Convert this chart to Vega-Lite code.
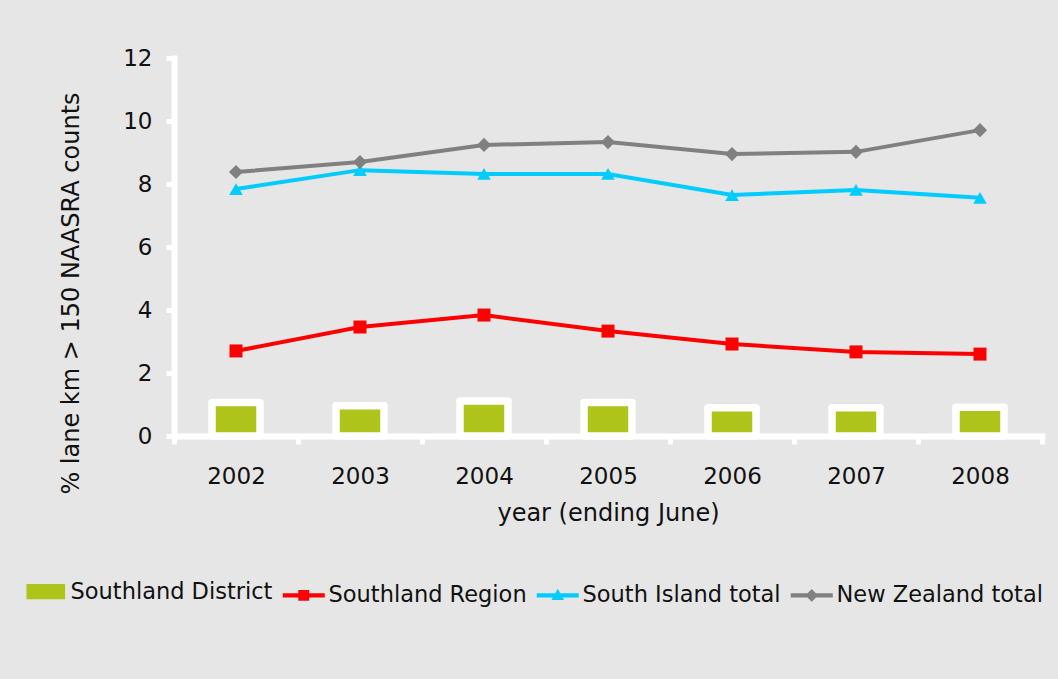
{
  "$schema": "https://vega.github.io/schema/vega-lite/v6.json",
  "autosize": "none",
  "width": 868,
  "height": 378,
  "padding": {"left": 174, "top": 58, "right": 16, "bottom": 243},
  "background": "#e6e6e6",
  "config": {
    "view": {"stroke": null},
    "font": "DejaVu Sans",
    "axis": {
      "grid": false,
      "domainColor": "white",
      "domainWidth": 6,
      "domainCap": "square",
      "tickColor": "white",
      "tickWidth": 5,
      "tickSize": 8,
      "labelFont": "DejaVu Sans",
      "labelFontSize": 23,
      "labelColor": "#111",
      "titleFont": "DejaVu Sans",
      "titleFontSize": 24,
      "titleFontWeight": "normal",
      "titleColor": "#111"
    }
  },
  "data": {
    "values": [
      {"year": "2002", "series": "Southland District", "value": 1.06},
      {"year": "2003", "series": "Southland District", "value": 0.96},
      {"year": "2004", "series": "Southland District", "value": 1.11},
      {"year": "2005", "series": "Southland District", "value": 1.06},
      {"year": "2006", "series": "Southland District", "value": 0.9},
      {"year": "2007", "series": "Southland District", "value": 0.9},
      {"year": "2008", "series": "Southland District", "value": 0.91},
      {"year": "2002", "series": "Southland Region", "value": 2.7},
      {"year": "2003", "series": "Southland Region", "value": 3.46},
      {"year": "2004", "series": "Southland Region", "value": 3.84},
      {"year": "2005", "series": "Southland Region", "value": 3.33},
      {"year": "2006", "series": "Southland Region", "value": 2.92},
      {"year": "2007", "series": "Southland Region", "value": 2.67},
      {"year": "2008", "series": "Southland Region", "value": 2.6},
      {"year": "2002", "series": "South Island total", "value": 7.84},
      {"year": "2003", "series": "South Island total", "value": 8.44},
      {"year": "2004", "series": "South Island total", "value": 8.32},
      {"year": "2005", "series": "South Island total", "value": 8.32},
      {"year": "2006", "series": "South Island total", "value": 7.65},
      {"year": "2007", "series": "South Island total", "value": 7.81},
      {"year": "2008", "series": "South Island total", "value": 7.56},
      {"year": "2002", "series": "New Zealand total", "value": 8.38},
      {"year": "2003", "series": "New Zealand total", "value": 8.7},
      {"year": "2004", "series": "New Zealand total", "value": 9.24},
      {"year": "2005", "series": "New Zealand total", "value": 9.33},
      {"year": "2006", "series": "New Zealand total", "value": 8.95},
      {"year": "2007", "series": "New Zealand total", "value": 9.02},
      {"year": "2008", "series": "New Zealand total", "value": 9.71}
    ]
  },
  "encoding": {
    "x": {
      "field": "year", "type": "ordinal",
      "scale": {"paddingInner": 0, "paddingOuter": 0},
      "axis": {"labelAngle": 0, "tickBand": "extent", "labelPadding": 21, "title": "year (ending June)", "titlePadding": 13}
    },
    "y": {
      "field": "value", "type": "quantitative",
      "scale": {"domain": [0, 12], "nice": false},
      "axis": {"values": [0, 2, 4, 6, 8, 10, 12], "labelPadding": 14, "title": "% lane km > 150 NAASRA counts", "titleAngle": -90, "titleX": -96, "titleY": 235, "titleAlign": "center", "titleBaseline": "alphabetic"}
    },
    "color": {
      "field": "series", "type": "nominal",
      "scale": {
        "domain": ["Southland District", "Southland Region", "South Island total", "New Zealand total"],
        "range": ["#aec41a", "#ff0000", "#00ccff", "#808080"]
      },
      "legend": {
        "title": null,
        "orient": "none",
        "legendX": -150,
        "legendY": 522,
        "direction": "horizontal",
        "columns": 4,
        "padding": 0,
        "symbolSize": 1764,
        "labelFont": "DejaVu Sans",
        "labelFontSize": 22.5,
        "labelColor": "#111",
        "labelLimit": 0,
        "labelOffset": 24,
        "columnPadding": 9,
        "encode": {
          "symbols": {
            "update": {
              "shape": {"signal": "datum.value === 'Southland District' ? 'M-0.3,-0.24H1.3V0.24H-0.3Z M0.5,-0.43L0.5,-0.43M0.5,0.43L0.5,0.43' : datum.value === 'Southland Region' ? 'M-0.5,-0.1H1.5V0.1H-0.5Z M0.24,-0.26H0.76V0.26H0.24Z M0.5,-0.43L0.5,-0.43M0.5,0.43L0.5,0.43' : datum.value === 'South Island total' ? 'M-0.5,-0.1H1.5V0.1H-0.5Z M0.2,0.22L0.5,-0.32L0.8,0.22Z M0.5,-0.43L0.5,-0.43M0.5,0.43L0.5,0.43' : 'M-0.5,-0.1H1.5V0.1H-0.5Z M0.2,0L0.5,-0.3L0.8,0L0.5,0.3Z M0.5,-0.43L0.5,-0.43M0.5,0.43L0.5,0.43'"},
              "fill": {"scale": "color", "field": "value"},
              "stroke": {"signal": "datum.value === 'Southland District' ? 'white' : 'transparent'"},
              "strokeWidth": {"signal": "datum.value === 'Southland District' ? 5 : 0"},
              "opacity": {"value": 1},
              "fillOpacity": {"value": 1}
            }
          }
        }
      }
    }
  },
  "layer": [
    {
      "transform": [{"filter": "datum.series === 'Southland District'"}],
      "mark": {"type": "bar", "size": 48, "stroke": "white", "strokeWidth": 7.5, "strokeJoin": "round"}
    },
    {
      "transform": [{"filter": "datum.series !== 'Southland District'"}],
      "mark": {"type": "line", "strokeWidth": 4},
      "encoding": {"detail": {"field": "series"}}
    },
    {
      "transform": [{"filter": "datum.series !== 'Southland District'"}],
      "mark": {"type": "point", "filled": true, "opacity": 1},
      "encoding": {
        "shape": {
          "field": "series", "type": "nominal",
          "scale": {"domain": ["Southland Region", "South Island total", "New Zealand total"], "range": ["square", "triangle-up", "diamond"]},
          "legend": null
        },
        "size": {
          "field": "series", "type": "nominal",
          "scale": {"domain": ["Southland Region", "South Island total", "New Zealand total"], "range": [169, 200, 200]},
          "legend": null
        }
      }
    }
  ]
}
